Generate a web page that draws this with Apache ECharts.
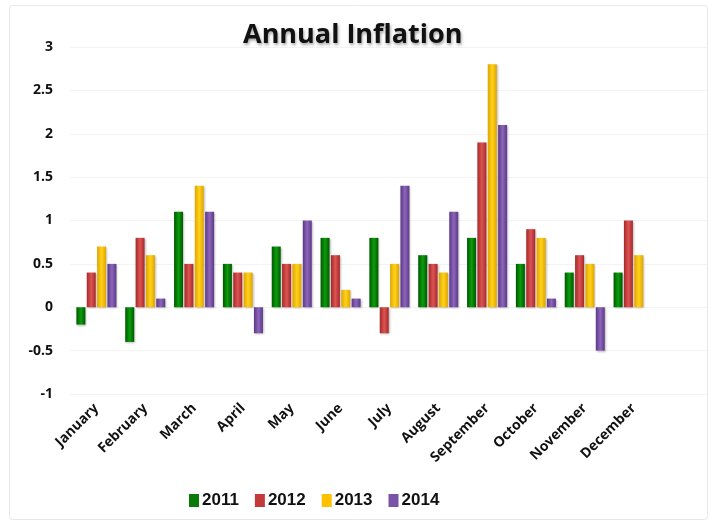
<!DOCTYPE html>
<html><head><meta charset="utf-8">
<script src="https://cdn.jsdelivr.net/npm/echarts@6/dist/echarts.min.js"></script>
<style>html,body{margin:0;padding:0;background:#fff}#c{width:710px;height:521px}</style>
</head><body><div id="c"></div>
<script>
const months = ['January','February','March','April','May','June','July','August','September','October','November','December'];
const y2011 = [-0.2,-0.4,1.1,0.5,0.7,0.8,0.8,0.6,0.8,0.5,0.4,0.4];
const y2012 = [0.4,0.8,0.5,0.4,0.5,0.6,-0.3,0.5,1.9,0.9,0.6,1.0];
const y2013 = [0.7,0.6,1.4,0.4,0.5,0.2,0.5,0.4,2.8,0.8,0.5,0.6];
const y2014 = [0.5,0.1,1.1,-0.3,1.0,0.1,1.4,1.1,2.1,0.1,-0.5,null];
const seriesNames = ['2011','2012','2013','2014'];
const yTicks = {min:-1,max:3,interval:0.5};
const colors = [['#005800','#0c9c0c','#005800'],['#a62828','#dc5454','#a62828'],['#e0a400','#ffd21a','#e0a400'],['#5c3888','#8c66ba','#5c3888']];
const legendColors = ['#0a7a0a','#c43a3a','#ffc000','#7a52a8'];
function grad(c){return new echarts.graphic.LinearGradient(0,0,1,0,[{offset:0,color:c[0]},{offset:0.5,color:c[1]},{offset:1,color:c[2]}]);}
const datas=[y2011,y2012,y2013,y2014];
const chart = echarts.init(document.getElementById('c'));
chart.setOption({
  animation:false,
  backgroundColor:'#fff',
  graphic:[{type:'rect',shape:{x:9.5,y:5.5,width:698,height:514,r:3},style:{fill:'none',stroke:'#e8e8e8',lineWidth:1},z:-10}],
  title:{text:'Annual Inflation',left:238,top:17,textStyle:{fontFamily:'Open Sans',fontWeight:'bold',fontSize:27,color:'#111',textShadowColor:'rgba(0,0,0,0.35)',textShadowBlur:3,textShadowOffsetX:1,textShadowOffsetY:2}},
  legend:{bottom:7,left:184,itemWidth:10,itemHeight:13,itemGap:16,icon:'rect',
    textStyle:{fontFamily:'Liberation Sans Narrow, Liberation Sans',fontWeight:'bold',fontSize:17,color:'#111',padding:[0,0,0,-2]},
    data:seriesNames.map((n,i)=>({name:n,itemStyle:{color:legendColors[i]}}))},
  grid:[{left:72,right:52,top:47,bottom:127,outerBoundsMode:'none'},
        {left:70,right:3,top:47,bottom:127,outerBoundsMode:'none'}],
  xAxis:[{type:'category',data:months,gridIndex:0,
    axisLine:{show:false},axisTick:{show:false},
    axisLabel:{interval:0,rotate:45,margin:12,fontFamily:'Open Sans',fontWeight:'bold',fontSize:14,color:'#111'}},
    {type:'value',gridIndex:1,show:false,min:0,max:1}],
  yAxis:[{type:'value',gridIndex:0,min:yTicks.min,max:yTicks.max,interval:yTicks.interval,
    axisLine:{show:false},axisTick:{show:false},splitLine:{show:false},
    axisLabel:{fontFamily:'Open Sans',fontWeight:'bold',fontSize:14,color:'#111',margin:19}},
    {type:'value',gridIndex:1,min:yTicks.min,max:yTicks.max,interval:yTicks.interval,
    axisLine:{show:false},axisTick:{show:false},axisLabel:{show:false},
    splitLine:{lineStyle:{color:'#f3f3f3'}}}],
  series:datas.map((d,i)=>({name:seriesNames[i],type:'bar',data:d,barGap:'15%',barCategoryGap:'18%',
    xAxisIndex:0,yAxisIndex:0,
    itemStyle:{color:grad(colors[i]),shadowColor:'rgba(0,0,0,0.25)',shadowBlur:2,shadowOffsetX:1,shadowOffsetY:1}}))
});
</script></body></html>
